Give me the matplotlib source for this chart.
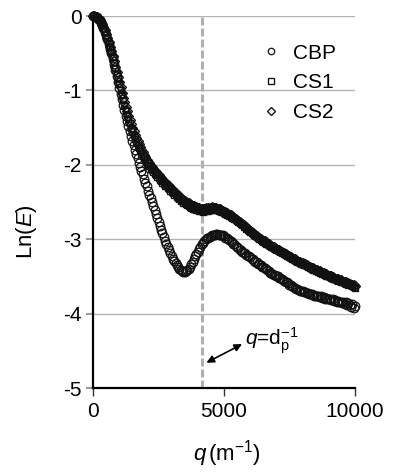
import numpy as np
import matplotlib
matplotlib.use("Agg")
import matplotlib.pyplot as plt

plt.rcParams['font.family'] = ['Liberation Sans', 'DejaVu Sans']
plt.rcParams['mathtext.fontset'] = 'custom'
plt.rcParams['mathtext.rm'] = 'Liberation Sans'
plt.rcParams['mathtext.it'] = 'Liberation Sans:italic'
plt.rcParams['axes.unicode_minus'] = False

# scattering vector grid (m^-1), step 50
q = np.arange(0, 10001, 50)

lnE_CBP = [
    0.00, 0.00, -0.01, -0.02, -0.04, -0.06, -0.09, -0.12, -0.16, -0.21,
    -0.26, -0.31, -0.37, -0.44, -0.50, -0.57, -0.65, -0.73, -0.81, -0.89,
    -0.97, -1.05, -1.12, -1.20, -1.27, -1.34, -1.41, -1.48, -1.55, -1.61,
    -1.68, -1.74, -1.80, -1.86, -1.91, -1.97, -2.03, -2.08, -2.13, -2.19,
    -2.24, -2.29, -2.35, -2.40, -2.45, -2.50, -2.56, -2.61, -2.66, -2.71,
    -2.77, -2.82, -2.87, -2.92, -2.97, -3.02, -3.06, -3.10, -3.14, -3.18,
    -3.22, -3.26, -3.29, -3.32, -3.35, -3.38, -3.40, -3.42, -3.43, -3.44,
    -3.44, -3.43, -3.42, -3.40, -3.37, -3.34, -3.30, -3.27, -3.23, -3.20,
    -3.17, -3.13, -3.10, -3.07, -3.05, -3.02, -3.00, -2.99, -2.98, -2.97,
    -2.96, -2.95, -2.94, -2.94, -2.93, -2.93, -2.94, -2.94, -2.95, -2.95,
    -2.96, -2.98, -2.99, -3.00, -3.01, -3.03, -3.04, -3.06, -3.07, -3.09,
    -3.11, -3.12, -3.14, -3.15, -3.17, -3.18, -3.19, -3.21, -3.22, -3.23,
    -3.24, -3.26, -3.27, -3.29, -3.30, -3.31, -3.33, -3.34, -3.35, -3.37,
    -3.38, -3.39, -3.40, -3.42, -3.43, -3.45, -3.45, -3.47, -3.48, -3.48,
    -3.49, -3.50, -3.52, -3.52, -3.53, -3.55, -3.56, -3.57, -3.58, -3.59,
    -3.61, -3.62, -3.63, -3.64, -3.65, -3.67, -3.67, -3.68, -3.69, -3.70,
    -3.70, -3.71, -3.71, -3.72, -3.72, -3.73, -3.74, -3.74, -3.75, -3.76,
    -3.76, -3.76, -3.77, -3.78, -3.77, -3.79, -3.78, -3.80, -3.79, -3.80,
    -3.80, -3.81, -3.82, -3.81, -3.83, -3.82, -3.84, -3.83, -3.85, -3.84,
    -3.86, -3.84, -3.87, -3.85, -3.89, -3.86, -3.88, -3.91, -3.87, -3.93,
    -3.90,
]

lnE_CS1 = [
    0.00, 0.00, -0.01, -0.02, -0.04, -0.06, -0.09, -0.12, -0.16, -0.20,
    -0.25, -0.30, -0.36, -0.42, -0.48, -0.55, -0.62, -0.70, -0.77, -0.85,
    -0.92, -0.99, -1.06, -1.13, -1.20, -1.26, -1.32, -1.38, -1.44, -1.50,
    -1.55, -1.60, -1.65, -1.69, -1.73, -1.77, -1.81, -1.85, -1.88, -1.91,
    -1.94, -1.97, -2.00, -2.02, -2.05, -2.07, -2.10, -2.12, -2.14, -2.16,
    -2.18, -2.20, -2.22, -2.24, -2.26, -2.28, -2.29, -2.31, -2.33, -2.35,
    -2.36, -2.38, -2.40, -2.41, -2.43, -2.45, -2.46, -2.48, -2.49, -2.51,
    -2.52, -2.53, -2.54, -2.56, -2.57, -2.58, -2.59, -2.59, -2.60, -2.61,
    -2.61, -2.62, -2.62, -2.62, -2.63, -2.62, -2.62, -2.61, -2.62, -2.61,
    -2.61, -2.60, -2.61, -2.60, -2.61, -2.61, -2.62, -2.62, -2.63, -2.64,
    -2.65, -2.66, -2.67, -2.68, -2.69, -2.70, -2.71, -2.72, -2.73, -2.74,
    -2.76, -2.77, -2.78, -2.80, -2.81, -2.83, -2.84, -2.86, -2.87, -2.89,
    -2.90, -2.92, -2.93, -2.95, -2.96, -2.97, -2.99, -3.00, -3.01, -3.02,
    -3.04, -3.05, -3.06, -3.07, -3.08, -3.09, -3.10, -3.11, -3.12, -3.13,
    -3.14, -3.15, -3.16, -3.17, -3.18, -3.19, -3.20, -3.21, -3.22, -3.23,
    -3.24, -3.25, -3.26, -3.27, -3.28, -3.29, -3.30, -3.31, -3.32, -3.33,
    -3.34, -3.35, -3.35, -3.36, -3.37, -3.38, -3.39, -3.40, -3.41, -3.42,
    -3.43, -3.43, -3.44, -3.45, -3.46, -3.47, -3.47, -3.48, -3.49, -3.50,
    -3.50, -3.51, -3.52, -3.53, -3.53, -3.54, -3.55, -3.56, -3.56, -3.57,
    -3.58, -3.58, -3.59, -3.60, -3.60, -3.61, -3.62, -3.62, -3.63, -3.64,
    -3.65,
]

lnE_CS2 = [
    0.00, 0.00, -0.01, -0.02, -0.03, -0.05, -0.08, -0.11, -0.15, -0.19,
    -0.24, -0.29, -0.35, -0.41, -0.47, -0.54, -0.61, -0.68, -0.75, -0.82,
    -0.89, -0.96, -1.03, -1.10, -1.16, -1.22, -1.28, -1.34, -1.40, -1.45,
    -1.50, -1.55, -1.60, -1.64, -1.68, -1.72, -1.76, -1.80, -1.83, -1.87,
    -1.90, -1.93, -1.96, -1.98, -2.01, -2.03, -2.06, -2.08, -2.10, -2.12,
    -2.14, -2.16, -2.18, -2.20, -2.22, -2.24, -2.26, -2.27, -2.29, -2.31,
    -2.33, -2.35, -2.36, -2.38, -2.40, -2.41, -2.43, -2.44, -2.46, -2.47,
    -2.48, -2.50, -2.51, -2.52, -2.53, -2.54, -2.55, -2.56, -2.57, -2.57,
    -2.58, -2.58, -2.59, -2.59, -2.59, -2.59, -2.58, -2.59, -2.58, -2.58,
    -2.58, -2.57, -2.58, -2.58, -2.58, -2.59, -2.59, -2.60, -2.61, -2.62,
    -2.63, -2.64, -2.65, -2.66, -2.67, -2.68, -2.69, -2.70, -2.72, -2.73,
    -2.74, -2.76, -2.77, -2.78, -2.80, -2.81, -2.83, -2.84, -2.86, -2.87,
    -2.89, -2.90, -2.92, -2.93, -2.94, -2.96, -2.97, -2.98, -3.00, -3.01,
    -3.02, -3.03, -3.04, -3.06, -3.07, -3.08, -3.09, -3.10, -3.11, -3.12,
    -3.13, -3.14, -3.15, -3.16, -3.17, -3.18, -3.19, -3.20, -3.21, -3.22,
    -3.23, -3.24, -3.25, -3.26, -3.27, -3.28, -3.29, -3.30, -3.31, -3.32,
    -3.32, -3.33, -3.34, -3.35, -3.36, -3.37, -3.38, -3.39, -3.39, -3.40,
    -3.41, -3.42, -3.43, -3.43, -3.44, -3.45, -3.46, -3.47, -3.47, -3.48,
    -3.49, -3.50, -3.50, -3.51, -3.52, -3.53, -3.53, -3.54, -3.55, -3.55,
    -3.56, -3.57, -3.57, -3.58, -3.59, -3.59, -3.60, -3.61, -3.61, -3.62,
    -3.63,
]

series_labels = ['CBP', 'CS1', 'CS2']
x_ticks = [0, 5000, 10000]
y_ticks = [0, -1, -2, -3, -4, -5]
q_dp = 4150  # q = dp^-1 marker line

fig = plt.figure(figsize=(3.98, 4.74), dpi=100)
ax = fig.add_axes([93/398, 86/474, 262/398, 372/474])

ax.set_xlim(0, 10000)
ax.set_ylim(-5, 0)

for yv in y_ticks[:-1]:
    ax.axhline(yv, color='#b4b4b4', lw=1.0, zorder=0)

ax.axvline(q_dp, color='#b0b0b0', lw=2.2, linestyle=(0, (2.6, 1.0)), zorder=1)

ink = '#111111'
h2, = ax.plot(q, lnE_CS2, linestyle='none', marker='D', markersize=5.0,
              markerfacecolor='none', markeredgecolor=ink, markeredgewidth=0.95,
              clip_on=False, zorder=3, label=series_labels[2])
h1, = ax.plot(q, lnE_CS1, linestyle='none', marker='s', markersize=5.0,
              markerfacecolor='none', markeredgecolor=ink, markeredgewidth=0.95,
              clip_on=False, zorder=3, label=series_labels[1])
h0, = ax.plot(q, lnE_CBP, linestyle='none', marker='o', markersize=6.2,
              markerfacecolor='none', markeredgecolor=ink, markeredgewidth=0.9,
              clip_on=False, zorder=4, label=series_labels[0])

leg = ax.legend(handles=[h0, h1, h2], loc='upper left',
                bbox_to_anchor=(0.585, 0.965), frameon=False, fontsize=15,
                handlelength=1.0, handletextpad=0.55, labelspacing=0.52,
                borderpad=0.2, markerscale=0.75)

for s in ['top', 'right']:
    ax.spines[s].set_visible(False)
for s in ['left', 'bottom']:
    ax.spines[s].set_linewidth(1.6)
    ax.spines[s].set_color('black')

ax.set_xticks(x_ticks)
ax.set_yticks(y_ticks)
ax.set_yticklabels([str(v) for v in y_ticks])
ax.tick_params(axis='y', direction='out', length=5, width=1.2, color='#888888',
               labelsize=15, pad=3)
ax.tick_params(axis='x', direction='out', length=6, width=1.0, color='#333333',
               labelsize=15, pad=4)

ax.set_ylabel(r'Ln($E$)', fontsize=16)
ax.yaxis.set_label_coords(-0.205, 0.42)
ax.set_xlabel(r'$q\,$(m$^{\mathrm{-1}}$)', fontsize=16)
ax.xaxis.set_label_coords(0.51, -0.135)

ax.annotate('', xy=(4330, -4.66), xytext=(5690, -4.41),
            arrowprops=dict(arrowstyle='<|-|>', color='black', lw=1.2,
                            mutation_scale=11, shrinkA=0, shrinkB=0))
ax.text(5800, -4.37, r'$q$=d$_{\mathrm{p}}^{\mathrm{-1}}$', fontsize=15,
        ha='left', va='center')

fig.savefig('out.png', dpi=100)
